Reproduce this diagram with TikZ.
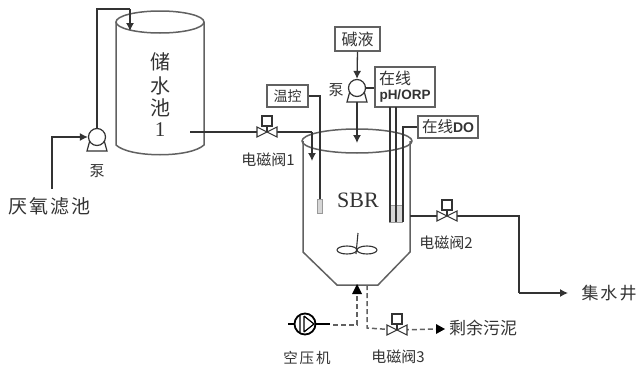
\documentclass[tikz,border=0pt]{standalone}
\usepackage{fontspec}
\setmainfont{Liberation Serif}
\newfontfamily\cjk{Noto Sans CJK SC}
\newfontfamily\lat{Liberation Sans}
\usetikzlibrary{arrows.meta}
\definecolor{ink}{gray}{0.2}
\definecolor{wallc}{gray}{0.38}
\definecolor{sens}{gray}{0.6}
\tikzset{
  x=1pt,y=-1pt,
  pipe/.style={draw=ink,line width=1.3pt},
  flow/.style={pipe,-{Latex[length=8pt,width=8pt]}},
  airline/.style={draw=wallc,line width=1.5pt,dash pattern=on 5pt off 3pt},
  airtip/.style={draw=none,fill=black},
  wall/.style={draw=wallc,line width=1.5pt},
  labelbox/.style={draw=wallc,line width=1.5pt,inner sep=0pt,fill=white,font=\cjk\fontsize{14}{16}\selectfont,text=ink},
  lab/.style={inner sep=0pt,text=ink,font=\cjk\fontsize{15}{17}\selectfont},
  pumpc/.style={circle,draw=ink,line width=1.2pt,fill=white,minimum size=17pt,inner sep=0pt},
  sensorbar/.style={draw=sens,line width=1pt,fill=sens!40},
  valve/.pic={
    \fill[white] (-10,-6) rectangle (10,6);
    \draw[ink,line width=1.1pt,fill=white] (-10,-5) -- (10,5) -- (10,-5) -- (-10,5) -- cycle;
    \draw[ink,line width=1.1pt] (0,0) -- (0,-6);
    \draw[ink,line width=1.1pt,fill=white] (-5,-6) rectangle (5,-16);
  },
  pumpbase/.pic={
    \draw[ink,line width=1.2pt,fill=white] (-7,3) -- (-10,14) -- (10,14) -- (7,3);
  }
}
\begin{document}
\begin{tikzpicture}
\useasboundingbox (0,0) rectangle (643,367);
% storage tank
\draw[wall] (116,22) -- (116,145) .. controls (130,158) and (190,158) .. (204,145) -- (204,22);
\draw[wall] (160,22) ellipse [x radius=44,y radius=11];
\node[inner sep=0pt,text=ink,font=\cjk\fontsize{20}{22}\selectfont] (t1a) at (160,62) {储};
\node[inner sep=0pt,text=ink,font=\cjk\fontsize{20}{22}\selectfont] (t1b) at (160,86) {水};
\node[inner sep=0pt,text=ink,font=\cjk\fontsize{20}{22}\selectfont] (t1c) at (160,108) {池};
\node[inner sep=0pt,text=ink,font=\fontsize{21}{23}\selectfont] (t1n) at (160,130) {1};
% left pump
\pic at (97,137) {pumpbase};
\node[pumpc] (p1) at (97,137) {};
\node[inner sep=0pt,text=ink,font=\cjk\fontsize{19}{21}\selectfont] (src) at (50,206) {厌\hspace{2pt}氧\hspace{2pt}滤\hspace{2pt}池};
\node[lab] (p1l) at (97,171) {泵};
\coordinate (c1) at (52,137);
\coordinate (c2) at (97,9);
\coordinate (c3) at (130,9);
\coordinate (c4) at (130,31);
\draw[flow] (52,189) -- (c1) -- (p1.west);
\draw[pipe] (p1.north) -- (c2) -- (c3);
\draw[flow] (c3) -- (c4);
% SBR
\draw[wall] (303,141) -- (303,252) -- (337,285) -- (378,285) -- (410,252) -- (410,141);
\draw[wall] (357,141) ellipse [x radius=55,y radius=12];
\node[inner sep=0pt,text=ink,font=\fontsize{22}{24}\selectfont] (sbr) at (358,200) {SBR};
% inlet with valve 1
\coordinate (s1) at (190,132);
\coordinate (v1) at (267,132);
\coordinate (c5) at (312,132);
\coordinate (c6) at (312,161);
\draw[pipe] (s1) -- (v1) -- (c5);
\draw[flow] (c5) -- (c6);
\pic at (v1) {valve};
\node[lab] (v1l) at (268,160) {电磁阀1};
% temperature control
\node[labelbox,minimum width=41pt,minimum height=22pt] (temp) at (287.5,96) {温控};
\coordinate (c7) at (320,96);
\node[sensorbar,minimum width=5pt,minimum height=14pt,inner sep=0pt] (ts) at (320,206) {};
\draw[pipe] (temp.east) -- (c7) -- (ts.north);
% alkali
\node[labelbox,minimum width=45pt,minimum height=24pt,font=\cjk\fontsize{16}{18}\selectfont] (alk) at (357.5,39) {碱液};
\pic at (357,88) {pumpbase};
\node[pumpc] (p2) at (357,88) {};
\node[lab] (p2l) at (336,90) {泵};
\coordinate (c8) at (357,143);
\draw[flow] (alk.south) -- (p2.north);
\draw[flow] (357,102) -- (c8);
% pH box
\node[draw=wallc,line width=1.5pt,fill=white,minimum width=60pt,minimum height=40pt,inner sep=0pt] (ph) at (405,87) {};
\node[inner sep=0pt,text=ink,font=\cjk\fontsize{16}{18}\selectfont] (ph1) at (395,78) {在线};
\node[inner sep=0pt,text=ink,font=\lat\bfseries\fontsize{13.5}{15}\selectfont] (ph2) at (405,96) {pH/ORP};
\draw[pipe] (p2.east) -- (ph.west |- p2.east);
% DO box
\node[labelbox,minimum width=60pt,minimum height=22pt,font=\cjk\fontsize{15.5}{17}\selectfont] (do) at (448,127) {在线{\lat\bfseries\fontsize{14}{16}\selectfont DO}};
% probes
\node[sensorbar,minimum width=13pt,minimum height=17pt,inner sep=0pt] (ps) at (396,214) {};
\coordinate (c9) at (403,127);
\draw[pipe] (390,107) -- (390,222);
\draw[pipe] (396,107) -- (396,222);
\draw[pipe] (do.west) -- (c9) -- (403,222);
% outlet
\coordinate (o1) at (410,216);
\coordinate (v2) at (447,216);
\coordinate (c10) at (519,216);
\coordinate (c11) at (519,293);
\node[inner sep=0pt,text=ink,font=\cjk\fontsize{17}{19}\selectfont] (well) at (609,293) {集\hspace{2pt}水\hspace{2pt}井};
\draw[pipe] (o1) -- (v2) -- (c10) -- (c11);
\draw[flow] (c11) -- (568,293);
\pic at (v2) {valve};
\node[lab] (v2l) at (446,243) {电磁阀2};
% mixer
\draw[ink,line width=1.1pt] (358,233) -- (356,254);
\draw[ink,line width=1.1pt] (347,250) ellipse [x radius=10,y radius=4];
\draw[ink,line width=1.1pt] (367,250) ellipse [x radius=10,y radius=4];
% compressor
\node[circle,draw=black,line width=1.8pt,minimum size=21pt,inner sep=0pt,fill=white] (comp) at (305,324) {};
\draw[black,line width=1.4pt] (288,324) -- (comp.west) (comp.east) -- (330,324);
\draw[black,line width=1.2pt] (300,316) -- (300,332) (304,316) -- (304,332) (304,316) -- (314,324) -- (304,332);
\node[inner sep=0pt,text=ink,font=\cjk\fontsize{14.5}{16}\selectfont] (compl) at (307,358) {空\hspace{2pt}压\hspace{2pt}机};
\coordinate (a1) at (333,325);
\coordinate (a2) at (357,325);
\coordinate (a3) at (357,293);
\coordinate (a4) at (357,284);
\draw[airline] (a1) -- (a2) -- (a3);
\fill[airtip] (a4) -- (362,294) -- (352,294) -- cycle;
% sludge
\coordinate (b0) at (367,285);
\coordinate (b1) at (367,328);
\coordinate (v3) at (397,330);
\coordinate (b2) at (437,329);
\coordinate (b3) at (445,329);
\draw[airline] (b0) -- (b1) -- (v3) -- (b2);
\fill[airtip] (b3) -- (436,324) -- (436,334) -- cycle;
\pic at (v3) {valve};
\node[lab] (v3l) at (398,357) {电磁阀3};
\node[inner sep=0pt,text=ink,font=\cjk\fontsize{17}{19}\selectfont] (sl) at (483,328) {剩余污泥};
\end{tikzpicture}
\end{document}
